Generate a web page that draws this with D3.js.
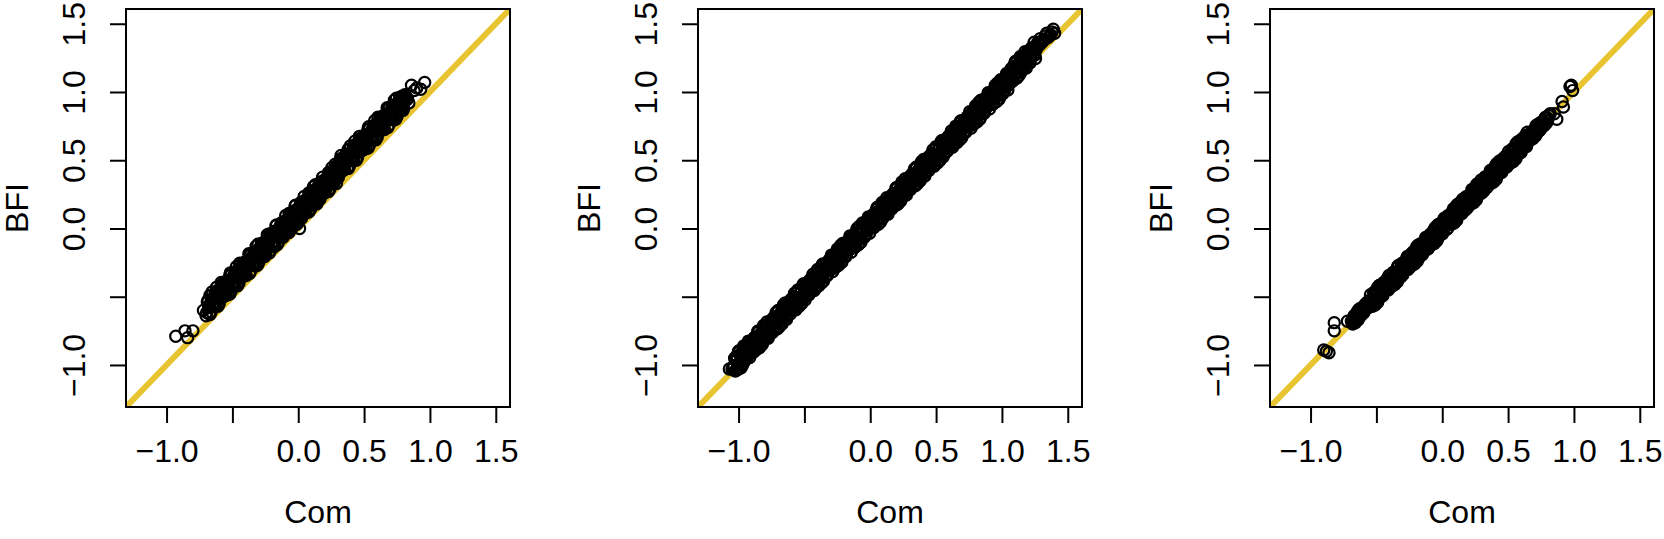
<!DOCTYPE html>
<html>
<head>
<meta charset="utf-8">
<script src="https://cdn.jsdelivr.net/npm/d3@7"></script>
<style>
  body { margin: 0; background: #fff; }
  svg { display: block; }
</style>
</head>
<body>
<svg id="chart" width="1664" height="539"></svg>
<script>
// [Com, BFI] pairs, one array per panel
var panel1 = [
  [-0.70,-0.64],[-0.69,-0.54],[-0.68,-0.58],[-0.67,-0.49],[-0.66,-0.61],[-0.65,-0.52],[-0.64,-0.56],[-0.63,-0.47],[-0.62,-0.51],[-0.61,-0.57],[-0.60,-0.46],[-0.59,-0.50],[-0.58,-0.41],[-0.57,-0.50],[-0.56,-0.44],
  [-0.55,-0.49],[-0.54,-0.39],[-0.53,-0.43],[-0.52,-0.34],[-0.51,-0.46],[-0.50,-0.37],[-0.49,-0.41],[-0.48,-0.32],[-0.47,-0.36],[-0.46,-0.42],[-0.45,-0.31],[-0.44,-0.35],[-0.43,-0.26],[-0.42,-0.35],[-0.41,-0.29],
  [-0.40,-0.34],[-0.39,-0.24],[-0.38,-0.28],[-0.37,-0.19],[-0.36,-0.31],[-0.35,-0.22],[-0.34,-0.26],[-0.33,-0.17],[-0.32,-0.21],[-0.31,-0.27],[-0.30,-0.16],[-0.29,-0.20],[-0.28,-0.11],[-0.27,-0.20],[-0.26,-0.14],
  [-0.25,-0.19],[-0.24,-0.09],[-0.23,-0.13],[-0.22,-0.04],[-0.21,-0.16],[-0.20,-0.07],[-0.19,-0.11],[-0.18,-0.02],[-0.17,-0.06],[-0.16,-0.12],[-0.15,-0.01],[-0.14,-0.05],[-0.13,0.04],[-0.12,-0.05],[-0.11,0.01],
  [-0.10,-0.04],[-0.09,0.06],[-0.08,0.02],[-0.07,0.11],[-0.06,-0.01],[-0.05,0.08],[-0.04,0.04],[-0.03,0.13],[-0.02,0.09],[-0.01,0.03],[0.00,0.14],[0.01,0.10],[0.02,0.19],[0.03,0.10],[0.04,0.16],
  [0.05,0.11],[0.06,0.21],[0.07,0.17],[0.08,0.26],[0.09,0.14],[0.10,0.23],[0.11,0.19],[0.12,0.28],[0.13,0.24],[0.14,0.18],[0.15,0.29],[0.16,0.25],[0.17,0.34],[0.18,0.25],[0.19,0.31],
  [0.20,0.26],[0.21,0.36],[0.22,0.32],[0.23,0.41],[0.24,0.29],[0.25,0.38],[0.26,0.34],[0.27,0.43],[0.28,0.39],[0.29,0.33],[0.30,0.46],[0.31,0.42],[0.32,0.51],[0.33,0.42],[0.34,0.48],
  [0.35,0.43],[0.36,0.53],[0.37,0.49],[0.38,0.58],[0.39,0.46],[0.40,0.55],[0.41,0.51],[0.42,0.60],[0.43,0.56],[0.44,0.50],[0.45,0.61],[0.46,0.57],[0.47,0.66],[0.48,0.57],[0.49,0.63],
  [0.50,0.58],[0.51,0.68],[0.52,0.64],[0.53,0.73],[0.54,0.61],[0.55,0.70],[0.56,0.66],[0.57,0.75],[0.58,0.71],[0.59,0.65],[0.60,0.76],[0.61,0.72],[0.62,0.81],[0.63,0.72],[0.64,0.78],
  [0.65,0.73],[0.66,0.83],[0.67,0.79],[0.68,0.88],[0.69,0.76],[0.70,0.85],[0.71,0.81],[0.72,0.90],[0.73,0.86],[0.74,0.80],[0.75,0.91],[0.76,0.87],[0.77,0.96],[0.78,0.87],[0.79,0.93],
  [0.80,0.88],[0.81,0.98],[0.82,0.94],[0.83,0.95],[0.84,0.92],
  [-0.68,-0.57],[-0.67,-0.63],[-0.66,-0.49],[-0.65,-0.57],[-0.64,-0.50],[-0.63,-0.57],[-0.62,-0.43],[-0.61,-0.51],[-0.60,-0.55],[-0.59,-0.44],[-0.58,-0.46],[-0.57,-0.50],[-0.56,-0.40],[-0.55,-0.46],[-0.54,-0.41],
  [-0.53,-0.42],[-0.52,-0.48],[-0.51,-0.34],[-0.50,-0.42],[-0.49,-0.35],[-0.48,-0.42],[-0.47,-0.28],[-0.46,-0.36],[-0.45,-0.40],[-0.44,-0.29],[-0.43,-0.31],[-0.42,-0.35],[-0.41,-0.25],[-0.40,-0.31],[-0.39,-0.26],
  [-0.38,-0.27],[-0.37,-0.33],[-0.36,-0.19],[-0.35,-0.27],[-0.34,-0.20],[-0.33,-0.27],[-0.32,-0.13],[-0.31,-0.21],[-0.30,-0.25],[-0.29,-0.14],[-0.28,-0.16],[-0.27,-0.20],[-0.26,-0.10],[-0.25,-0.16],[-0.24,-0.11],
  [-0.23,-0.12],[-0.22,-0.18],[-0.21,-0.04],[-0.20,-0.12],[-0.19,-0.05],[-0.18,-0.12],[-0.17,0.02],[-0.16,-0.06],[-0.15,-0.10],[-0.14,0.01],[-0.13,-0.01],[-0.12,-0.05],[-0.11,0.05],[-0.10,-0.01],[-0.09,0.04],
  [-0.08,0.03],[-0.07,-0.03],[-0.06,0.11],[-0.05,0.03],[-0.04,0.10],[-0.03,0.03],[-0.02,0.17],[-0.01,0.09],[0.00,0.05],[0.01,0.16],[0.02,0.14],[0.03,0.10],[0.04,0.20],[0.05,0.14],[0.06,0.19],
  [0.07,0.18],[0.08,0.12],[0.09,0.26],[0.10,0.18],[0.11,0.25],[0.12,0.18],[0.13,0.32],[0.14,0.24],[0.15,0.20],[0.16,0.31],[0.17,0.29],[0.18,0.25],[0.19,0.35],[0.20,0.29],[0.21,0.34],
  [0.22,0.33],[0.23,0.27],[0.24,0.41],[0.25,0.33],[0.26,0.40],[0.27,0.33],[0.28,0.47],[0.29,0.39],[0.30,0.37],[0.31,0.48],[0.32,0.46],[0.33,0.42],[0.34,0.52],[0.35,0.46],[0.36,0.51],
  [0.37,0.50],[0.38,0.44],[0.39,0.58],[0.40,0.50],[0.41,0.57],[0.42,0.50],[0.43,0.64],[0.44,0.56],[0.45,0.52],[0.46,0.63],[0.47,0.61],[0.48,0.57],[0.49,0.67],[0.50,0.61],[0.51,0.66],
  [0.52,0.65],[0.53,0.59],[0.54,0.73],[0.55,0.65],[0.56,0.72],[0.57,0.65],[0.58,0.79],[0.59,0.71],[0.60,0.67],[0.61,0.78],[0.62,0.76],[0.63,0.72],[0.64,0.82],[0.65,0.76],[0.66,0.81],
  [0.67,0.80],[0.68,0.74],[0.69,0.88],[0.70,0.80],[0.71,0.87],[0.72,0.80],[0.73,0.94],[0.74,0.86],[0.75,0.82],[0.76,0.93],[0.77,0.91],[0.78,0.87],[0.79,0.97],[0.80,0.91],[0.81,0.96],
  [-0.695,-0.615],[-0.685,-0.525],[-0.675,-0.625],[-0.665,-0.545],[-0.655,-0.465],[-0.645,-0.545],[-0.635,-0.495],[-0.625,-0.545],[-0.615,-0.455],[-0.605,-0.555],[-0.595,-0.475],[-0.585,-0.395],[-0.575,-0.475],[-0.565,-0.425],
  [-0.555,-0.475],[-0.545,-0.385],[-0.535,-0.485],[-0.525,-0.405],[-0.515,-0.325],[-0.505,-0.405],[-0.495,-0.355],[-0.485,-0.405],[-0.475,-0.315],[-0.465,-0.415],[-0.455,-0.335],[-0.445,-0.255],[-0.435,-0.335],[-0.425,-0.285],
  [-0.415,-0.335],[-0.405,-0.245],[-0.395,-0.345],[-0.385,-0.265],[-0.375,-0.185],[-0.365,-0.265],[-0.355,-0.215],[-0.345,-0.265],[-0.335,-0.175],[-0.325,-0.275],[-0.315,-0.195],[-0.305,-0.115],[-0.295,-0.195],[-0.285,-0.145],
  [-0.275,-0.195],[-0.265,-0.105],[-0.255,-0.205],[-0.245,-0.125],[-0.235,-0.045],[-0.225,-0.125],[-0.215,-0.075],[-0.205,-0.125],[-0.195,-0.035],[-0.185,-0.135],[-0.175,-0.055],[-0.165,0.025],[-0.155,-0.055],[-0.145,-0.005],
  [-0.135,-0.055],[-0.125,0.035],[-0.115,-0.065],[-0.105,0.015],[-0.095,0.095],[-0.085,0.015],[-0.075,0.065],[-0.065,0.015],[-0.055,0.105],[-0.045,0.005],[-0.035,0.085],[-0.025,0.165],[-0.015,0.085],[-0.005,0.135],
  [0.005,0.085],[0.015,0.175],[0.025,0.075],[0.035,0.155],[0.045,0.235],[0.055,0.155],[0.065,0.205],[0.075,0.155],[0.085,0.245],[0.095,0.145],[0.105,0.225],[0.115,0.305],[0.125,0.225],[0.135,0.275],
  [0.145,0.225],[0.155,0.315],[0.165,0.215],[0.175,0.295],[0.185,0.375],[0.195,0.295],[0.205,0.345],[0.215,0.295],[0.225,0.385],[0.235,0.285],[0.245,0.365],[0.255,0.445],[0.265,0.365],[0.275,0.415],
  [0.285,0.365],[0.295,0.455],[0.305,0.375],[0.315,0.455],[0.325,0.535],[0.335,0.455],[0.345,0.505],[0.355,0.455],[0.365,0.545],[0.375,0.445],[0.385,0.525],[0.395,0.605],[0.405,0.525],[0.415,0.575],
  [0.425,0.525],[0.435,0.615],[0.445,0.515],[0.455,0.595],[0.465,0.675],[0.475,0.595],[0.485,0.645],[0.495,0.595],[0.505,0.685],[0.515,0.585],[0.525,0.665],[0.535,0.745],[0.545,0.665],[0.555,0.715],
  [0.565,0.665],[0.575,0.755],[0.585,0.655],[0.595,0.735],[0.605,0.815],[0.615,0.735],[0.625,0.785],[0.635,0.735],[0.645,0.825],[0.655,0.725],[0.665,0.805],[0.675,0.885],[0.685,0.805],[0.695,0.855],
  [0.705,0.805],[0.715,0.895],[0.725,0.795],[0.735,0.875],[0.745,0.955],[0.755,0.875],[0.765,0.925],[0.775,0.875],[0.785,0.965],[0.795,0.865],[0.805,0.945],[0.815,0.975],[0.825,0.945],
  [-0.93,-0.79],[-0.84,-0.80],[-0.86,-0.75],[-0.80,-0.75],[-0.72,-0.60],[0.01,0.00],
  [0.86,1.05],[0.93,1.02],[0.96,1.07],[0.88,1.01],[0.90,1.03]
];

var panel2 = [
  [-1.04,-1.02],[-1.03,-0.95],[-1.02,-1.04],[-1.01,-0.96],[-1.00,-0.90],[-0.99,-1.02],[-0.98,-0.92],[-0.97,-0.97],[-0.96,-0.87],[-0.95,-0.92],[-0.94,-0.95],[-0.93,-0.86],[-0.92,-0.88],[-0.91,-0.90],[-0.90,-0.82],
  [-0.89,-0.87],[-0.88,-0.80],[-0.87,-0.89],[-0.86,-0.81],[-0.85,-0.75],[-0.84,-0.87],[-0.83,-0.77],[-0.82,-0.82],[-0.81,-0.72],[-0.80,-0.77],[-0.79,-0.80],[-0.78,-0.71],[-0.77,-0.73],[-0.76,-0.75],[-0.75,-0.67],
  [-0.74,-0.72],[-0.73,-0.65],[-0.72,-0.74],[-0.71,-0.66],[-0.70,-0.60],[-0.69,-0.72],[-0.68,-0.62],[-0.67,-0.67],[-0.66,-0.57],[-0.65,-0.62],[-0.64,-0.65],[-0.63,-0.56],[-0.62,-0.58],[-0.61,-0.60],[-0.60,-0.52],
  [-0.59,-0.57],[-0.58,-0.50],[-0.57,-0.59],[-0.56,-0.51],[-0.55,-0.45],[-0.54,-0.57],[-0.53,-0.47],[-0.52,-0.52],[-0.51,-0.42],[-0.50,-0.47],[-0.49,-0.50],[-0.48,-0.41],[-0.47,-0.43],[-0.46,-0.45],[-0.45,-0.37],
  [-0.44,-0.42],[-0.43,-0.35],[-0.42,-0.44],[-0.41,-0.36],[-0.40,-0.30],[-0.39,-0.42],[-0.38,-0.32],[-0.37,-0.37],[-0.36,-0.27],[-0.35,-0.32],[-0.34,-0.35],[-0.33,-0.26],[-0.32,-0.28],[-0.31,-0.30],[-0.30,-0.22],
  [-0.29,-0.27],[-0.28,-0.20],[-0.27,-0.29],[-0.26,-0.21],[-0.25,-0.15],[-0.24,-0.27],[-0.23,-0.17],[-0.22,-0.22],[-0.21,-0.12],[-0.20,-0.17],[-0.19,-0.20],[-0.18,-0.11],[-0.17,-0.13],[-0.16,-0.15],[-0.15,-0.07],
  [-0.14,-0.12],[-0.13,-0.05],[-0.12,-0.14],[-0.11,-0.06],[-0.10,0.00],[-0.09,-0.12],[-0.08,-0.02],[-0.07,-0.07],[-0.06,0.03],[-0.05,-0.02],[-0.04,-0.05],[-0.03,0.04],[-0.02,0.02],[-0.01,0.00],[0.00,0.08],
  [0.01,0.03],[0.02,0.10],[0.03,0.01],[0.04,0.09],[0.05,0.15],[0.06,0.03],[0.07,0.13],[0.08,0.08],[0.09,0.18],[0.10,0.13],[0.11,0.10],[0.12,0.19],[0.13,0.17],[0.14,0.15],[0.15,0.23],
  [0.16,0.18],[0.17,0.25],[0.18,0.16],[0.19,0.24],[0.20,0.30],[0.21,0.18],[0.22,0.28],[0.23,0.23],[0.24,0.33],[0.25,0.28],[0.26,0.25],[0.27,0.34],[0.28,0.32],[0.29,0.30],[0.30,0.38],
  [0.31,0.33],[0.32,0.40],[0.33,0.31],[0.34,0.39],[0.35,0.45],[0.36,0.33],[0.37,0.43],[0.38,0.38],[0.39,0.48],[0.40,0.43],[0.41,0.40],[0.42,0.49],[0.43,0.47],[0.44,0.45],[0.45,0.53],
  [0.46,0.48],[0.47,0.55],[0.48,0.46],[0.49,0.54],[0.50,0.60],[0.51,0.48],[0.52,0.58],[0.53,0.53],[0.54,0.63],[0.55,0.58],[0.56,0.55],[0.57,0.64],[0.58,0.62],[0.59,0.60],[0.60,0.68],
  [0.61,0.63],[0.62,0.70],[0.63,0.61],[0.64,0.69],[0.65,0.75],[0.66,0.63],[0.67,0.73],[0.68,0.68],[0.69,0.78],[0.70,0.73],[0.71,0.70],[0.72,0.79],[0.73,0.77],[0.74,0.75],[0.75,0.83],
  [0.76,0.78],[0.77,0.85],[0.78,0.76],[0.79,0.84],[0.80,0.90],[0.81,0.78],[0.82,0.88],[0.83,0.83],[0.84,0.93],[0.85,0.88],[0.86,0.85],[0.87,0.94],[0.88,0.92],[0.89,0.90],[0.90,0.98],
  [0.91,0.93],[0.92,1.00],[0.93,0.91],[0.94,0.99],[0.95,1.05],[0.96,0.93],[0.97,1.03],[0.98,0.98],[0.99,1.08],[1.00,1.03],[1.01,1.00],[1.02,1.09],[1.03,1.07],[1.04,1.05],[1.05,1.13],
  [1.06,1.10],[1.07,1.17],[1.08,1.08],[1.09,1.16],[1.10,1.22],[1.11,1.10],[1.12,1.20],[1.13,1.15],[1.14,1.25],[1.15,1.20],[1.16,1.17],[1.17,1.26],[1.18,1.24],[1.19,1.22],[1.20,1.30],
  [1.21,1.25],[1.23,1.30],[1.25,1.27],[1.27,1.36],[1.29,1.39],[1.31,1.37],[1.33,1.41],[1.35,1.40],
  [-1.02,-0.97],[-1.01,-1.03],[-1.00,-0.91],[-0.99,-0.98],[-0.98,-0.92],[-0.97,-1.00],[-0.96,-0.86],[-0.95,-0.92],[-0.94,-0.87],[-0.93,-0.94],[-0.92,-0.88],[-0.91,-0.83],[-0.90,-0.90],[-0.89,-0.83],[-0.88,-0.86],
  [-0.87,-0.82],[-0.86,-0.88],[-0.85,-0.76],[-0.84,-0.83],[-0.83,-0.77],[-0.82,-0.85],[-0.81,-0.71],[-0.80,-0.77],[-0.79,-0.72],[-0.78,-0.79],[-0.77,-0.73],[-0.76,-0.68],[-0.75,-0.75],[-0.74,-0.68],[-0.73,-0.71],
  [-0.72,-0.67],[-0.71,-0.73],[-0.70,-0.61],[-0.69,-0.68],[-0.68,-0.62],[-0.67,-0.70],[-0.66,-0.56],[-0.65,-0.62],[-0.64,-0.57],[-0.63,-0.64],[-0.62,-0.58],[-0.61,-0.53],[-0.60,-0.60],[-0.59,-0.53],[-0.58,-0.56],
  [-0.57,-0.52],[-0.56,-0.58],[-0.55,-0.46],[-0.54,-0.53],[-0.53,-0.47],[-0.52,-0.55],[-0.51,-0.41],[-0.50,-0.47],[-0.49,-0.42],[-0.48,-0.49],[-0.47,-0.43],[-0.46,-0.38],[-0.45,-0.45],[-0.44,-0.38],[-0.43,-0.41],
  [-0.42,-0.37],[-0.41,-0.43],[-0.40,-0.31],[-0.39,-0.38],[-0.38,-0.32],[-0.37,-0.40],[-0.36,-0.26],[-0.35,-0.32],[-0.34,-0.27],[-0.33,-0.34],[-0.32,-0.28],[-0.31,-0.23],[-0.30,-0.30],[-0.29,-0.23],[-0.28,-0.26],
  [-0.27,-0.22],[-0.26,-0.28],[-0.25,-0.16],[-0.24,-0.23],[-0.23,-0.17],[-0.22,-0.25],[-0.21,-0.11],[-0.20,-0.17],[-0.19,-0.12],[-0.18,-0.19],[-0.17,-0.13],[-0.16,-0.08],[-0.15,-0.15],[-0.14,-0.08],[-0.13,-0.11],
  [-0.12,-0.07],[-0.11,-0.13],[-0.10,-0.01],[-0.09,-0.08],[-0.08,-0.02],[-0.07,-0.10],[-0.06,0.04],[-0.05,-0.02],[-0.04,0.03],[-0.03,-0.04],[-0.02,0.02],[-0.01,0.07],[0.00,0.00],[0.01,0.07],[0.02,0.04],
  [0.03,0.08],[0.04,0.02],[0.05,0.14],[0.06,0.07],[0.07,0.13],[0.08,0.05],[0.09,0.19],[0.10,0.13],[0.11,0.18],[0.12,0.11],[0.13,0.17],[0.14,0.22],[0.15,0.15],[0.16,0.22],[0.17,0.19],
  [0.18,0.23],[0.19,0.17],[0.20,0.29],[0.21,0.22],[0.22,0.28],[0.23,0.20],[0.24,0.34],[0.25,0.28],[0.26,0.33],[0.27,0.26],[0.28,0.32],[0.29,0.37],[0.30,0.30],[0.31,0.37],[0.32,0.34],
  [0.33,0.38],[0.34,0.32],[0.35,0.44],[0.36,0.37],[0.37,0.43],[0.38,0.35],[0.39,0.49],[0.40,0.43],[0.41,0.48],[0.42,0.41],[0.43,0.47],[0.44,0.52],[0.45,0.45],[0.46,0.52],[0.47,0.49],
  [0.48,0.53],[0.49,0.47],[0.50,0.59],[0.51,0.52],[0.52,0.58],[0.53,0.50],[0.54,0.64],[0.55,0.58],[0.56,0.63],[0.57,0.56],[0.58,0.62],[0.59,0.67],[0.60,0.60],[0.61,0.67],[0.62,0.64],
  [0.63,0.68],[0.64,0.62],[0.65,0.74],[0.66,0.67],[0.67,0.73],[0.68,0.65],[0.69,0.79],[0.70,0.73],[0.71,0.78],[0.72,0.71],[0.73,0.77],[0.74,0.82],[0.75,0.75],[0.76,0.82],[0.77,0.79],
  [0.78,0.83],[0.79,0.77],[0.80,0.89],[0.81,0.82],[0.82,0.88],[0.83,0.80],[0.84,0.94],[0.85,0.88],[0.86,0.93],[0.87,0.86],[0.88,0.92],[0.89,0.97],[0.90,0.90],[0.91,0.97],[0.92,0.94],
  [0.93,0.98],[0.94,0.92],[0.95,1.04],[0.96,0.97],[0.97,1.03],[0.98,0.95],[0.99,1.09],[1.00,1.03],[1.01,1.08],[1.02,1.01],[1.03,1.07],[1.04,1.12],[1.05,1.05],[1.06,1.14],[1.07,1.11],
  [1.08,1.15],[1.09,1.09],[1.10,1.21],[1.11,1.14],[1.12,1.20],[1.13,1.12],[1.14,1.26],[1.15,1.20],[1.16,1.25],[1.17,1.18],[1.18,1.24],[1.19,1.29],[1.20,1.22],[1.21,1.29],[1.22,1.26],
  [1.24,1.32],[1.26,1.31],[1.28,1.35],[1.30,1.36],[1.32,1.38],[1.34,1.43],[1.36,1.41],
  [-1.035,-1.005],[-1.025,-1.045],[-1.015,-0.935],[-1.005,-0.995],[-0.995,-0.895],[-0.985,-1.015],[-0.975,-0.925],[-0.965,-0.935],[-0.955,-0.975],[-0.945,-0.865],[-0.935,-0.925],[-0.925,-0.825],[-0.915,-0.945],[-0.905,-0.855],
  [-0.895,-0.865],[-0.885,-0.905],[-0.875,-0.795],[-0.865,-0.855],[-0.855,-0.755],[-0.845,-0.875],[-0.835,-0.785],[-0.825,-0.795],[-0.815,-0.835],[-0.805,-0.725],[-0.795,-0.785],[-0.785,-0.685],[-0.775,-0.805],[-0.765,-0.715],
  [-0.755,-0.725],[-0.745,-0.765],[-0.735,-0.655],[-0.725,-0.715],[-0.715,-0.615],[-0.705,-0.735],[-0.695,-0.645],[-0.685,-0.655],[-0.675,-0.695],[-0.665,-0.585],[-0.655,-0.645],[-0.645,-0.545],[-0.635,-0.665],[-0.625,-0.575],
  [-0.615,-0.585],[-0.605,-0.625],[-0.595,-0.515],[-0.585,-0.575],[-0.575,-0.475],[-0.565,-0.595],[-0.555,-0.505],[-0.545,-0.515],[-0.535,-0.555],[-0.525,-0.445],[-0.515,-0.505],[-0.505,-0.405],[-0.495,-0.525],[-0.485,-0.435],
  [-0.475,-0.445],[-0.465,-0.485],[-0.455,-0.375],[-0.445,-0.435],[-0.435,-0.335],[-0.425,-0.455],[-0.415,-0.365],[-0.405,-0.375],[-0.395,-0.415],[-0.385,-0.305],[-0.375,-0.365],[-0.365,-0.265],[-0.355,-0.385],[-0.345,-0.295],
  [-0.335,-0.305],[-0.325,-0.345],[-0.315,-0.235],[-0.305,-0.295],[-0.295,-0.195],[-0.285,-0.315],[-0.275,-0.225],[-0.265,-0.235],[-0.255,-0.275],[-0.245,-0.165],[-0.235,-0.225],[-0.225,-0.125],[-0.215,-0.245],[-0.205,-0.155],
  [-0.195,-0.165],[-0.185,-0.205],[-0.175,-0.095],[-0.165,-0.155],[-0.155,-0.055],[-0.145,-0.175],[-0.135,-0.085],[-0.125,-0.095],[-0.115,-0.135],[-0.105,-0.025],[-0.095,-0.085],[-0.085,0.015],[-0.075,-0.105],[-0.065,-0.015],
  [-0.055,-0.025],[-0.045,-0.065],[-0.035,0.045],[-0.025,-0.015],[-0.015,0.085],[-0.005,-0.035],[0.005,0.055],[0.015,0.045],[0.025,0.005],[0.035,0.115],[0.045,0.055],[0.055,0.155],[0.065,0.035],[0.075,0.125],
  [0.085,0.115],[0.095,0.075],[0.105,0.185],[0.115,0.125],[0.125,0.225],[0.135,0.105],[0.145,0.195],[0.155,0.185],[0.165,0.145],[0.175,0.255],[0.185,0.195],[0.195,0.295],[0.205,0.175],[0.215,0.265],
  [0.225,0.255],[0.235,0.215],[0.245,0.325],[0.255,0.265],[0.265,0.365],[0.275,0.245],[0.285,0.335],[0.295,0.325],[0.305,0.285],[0.315,0.395],[0.325,0.335],[0.335,0.435],[0.345,0.315],[0.355,0.405],
  [0.365,0.395],[0.375,0.355],[0.385,0.465],[0.395,0.405],[0.405,0.505],[0.415,0.385],[0.425,0.475],[0.435,0.465],[0.445,0.425],[0.455,0.535],[0.465,0.475],[0.475,0.575],[0.485,0.455],[0.495,0.545],
  [0.505,0.535],[0.515,0.495],[0.525,0.605],[0.535,0.545],[0.545,0.645],[0.555,0.525],[0.565,0.615],[0.575,0.605],[0.585,0.565],[0.595,0.675],[0.605,0.615],[0.615,0.715],[0.625,0.595],[0.635,0.685],
  [0.645,0.675],[0.655,0.635],[0.665,0.745],[0.675,0.685],[0.685,0.785],[0.695,0.665],[0.705,0.755],[0.715,0.745],[0.725,0.705],[0.735,0.815],[0.745,0.755],[0.755,0.855],[0.765,0.735],[0.775,0.825],
  [0.785,0.815],[0.795,0.775],[0.805,0.885],[0.815,0.825],[0.825,0.925],[0.835,0.805],[0.845,0.895],[0.855,0.885],[0.865,0.845],[0.875,0.955],[0.885,0.895],[0.895,0.995],[0.905,0.875],[0.915,0.965],
  [0.925,0.955],[0.935,0.915],[0.945,1.025],[0.955,0.965],[0.965,1.065],[0.975,0.945],[0.985,1.035],[0.995,1.025],[1.005,0.985],[1.015,1.095],[1.025,1.035],[1.035,1.135],[1.045,1.015],[1.055,1.105],
  [1.065,1.115],[1.075,1.075],[1.085,1.185],[1.095,1.125],[1.105,1.225],[1.115,1.105],[1.125,1.195],[1.135,1.185],[1.145,1.145],[1.155,1.255],[1.165,1.195],[1.175,1.295],[1.185,1.175],[1.195,1.265],
  [1.205,1.255],[1.215,1.215],[1.225,1.325],[1.235,1.265],[1.245,1.365],[1.255,1.245],[1.265,1.335],[1.285,1.345],[1.305,1.375],
  [1.39,1.46],[1.37,1.42],[1.38,1.44],[1.40,1.43],
  [-1.07,-1.03],[-1.05,-1.03],[-1.00,-1.03],[-0.98,-1.02]
];

var panel3 = [
  [-0.69,-0.68],[-0.68,-0.70],[-0.67,-0.64],[-0.66,-0.67],[-0.65,-0.63],[-0.64,-0.67],[-0.63,-0.59],[-0.62,-0.62],[-0.61,-0.63],[-0.60,-0.58],[-0.59,-0.60],[-0.58,-0.57],[-0.57,-0.54],[-0.56,-0.58],[-0.55,-0.54],
  [-0.54,-0.53],[-0.53,-0.57],[-0.52,-0.47],[-0.51,-0.52],[-0.50,-0.47],[-0.49,-0.54],[-0.48,-0.42],[-0.47,-0.47],[-0.46,-0.49],[-0.45,-0.41],[-0.44,-0.46],[-0.43,-0.41],[-0.42,-0.37],[-0.41,-0.45],[-0.40,-0.39],
  [-0.39,-0.38],[-0.38,-0.42],[-0.37,-0.32],[-0.36,-0.37],[-0.35,-0.32],[-0.34,-0.39],[-0.33,-0.27],[-0.32,-0.32],[-0.31,-0.34],[-0.30,-0.26],[-0.29,-0.31],[-0.28,-0.26],[-0.27,-0.22],[-0.26,-0.30],[-0.25,-0.24],
  [-0.24,-0.23],[-0.23,-0.27],[-0.22,-0.17],[-0.21,-0.22],[-0.20,-0.17],[-0.19,-0.24],[-0.18,-0.12],[-0.17,-0.17],[-0.16,-0.19],[-0.15,-0.11],[-0.14,-0.16],[-0.13,-0.11],[-0.12,-0.07],[-0.11,-0.15],[-0.10,-0.09],
  [-0.09,-0.08],[-0.08,-0.12],[-0.07,-0.02],[-0.06,-0.07],[-0.05,-0.02],[-0.04,-0.09],[-0.03,0.03],[-0.02,-0.02],[-0.01,-0.04],[0.00,0.04],[0.01,-0.01],[0.02,0.04],[0.03,0.08],[0.04,0.00],[0.05,0.06],
  [0.06,0.07],[0.07,0.03],[0.08,0.13],[0.09,0.08],[0.10,0.13],[0.11,0.06],[0.12,0.18],[0.13,0.13],[0.14,0.11],[0.15,0.19],[0.16,0.14],[0.17,0.19],[0.18,0.23],[0.19,0.15],[0.20,0.21],
  [0.21,0.22],[0.22,0.18],[0.23,0.28],[0.24,0.23],[0.25,0.28],[0.26,0.21],[0.27,0.33],[0.28,0.28],[0.29,0.26],[0.30,0.34],[0.31,0.29],[0.32,0.34],[0.33,0.38],[0.34,0.30],[0.35,0.36],
  [0.36,0.37],[0.37,0.33],[0.38,0.43],[0.39,0.38],[0.40,0.43],[0.41,0.36],[0.42,0.48],[0.43,0.43],[0.44,0.41],[0.45,0.49],[0.46,0.44],[0.47,0.49],[0.48,0.53],[0.49,0.45],[0.50,0.51],
  [0.51,0.52],[0.52,0.48],[0.53,0.58],[0.54,0.53],[0.55,0.58],[0.56,0.51],[0.57,0.63],[0.58,0.58],[0.59,0.56],[0.60,0.64],[0.61,0.59],[0.62,0.64],[0.63,0.68],[0.64,0.60],[0.65,0.66],
  [0.66,0.67],[0.67,0.65],[0.68,0.71],[0.69,0.68],[0.70,0.72],[0.71,0.68],[0.72,0.76],[0.73,0.73],[0.74,0.72],[0.75,0.77],[0.76,0.75],[0.77,0.78],[0.78,0.81],[0.79,0.77],[0.80,0.81],
  [0.81,0.83],[0.82,0.84],
  [-0.68,-0.69],[-0.67,-0.65],[-0.66,-0.69],[-0.65,-0.64],[-0.64,-0.60],[-0.63,-0.65],[-0.62,-0.61],[-0.61,-0.58],[-0.60,-0.62],[-0.59,-0.57],[-0.58,-0.58],[-0.57,-0.58],[-0.56,-0.54],[-0.55,-0.56],[-0.54,-0.52],
  [-0.53,-0.55],[-0.52,-0.48],[-0.51,-0.56],[-0.50,-0.48],[-0.49,-0.43],[-0.48,-0.51],[-0.47,-0.46],[-0.46,-0.41],[-0.45,-0.49],[-0.44,-0.41],[-0.43,-0.43],[-0.42,-0.43],[-0.41,-0.37],[-0.40,-0.42],[-0.39,-0.36],
  [-0.38,-0.40],[-0.37,-0.33],[-0.36,-0.41],[-0.35,-0.33],[-0.34,-0.28],[-0.33,-0.36],[-0.32,-0.31],[-0.31,-0.26],[-0.30,-0.34],[-0.29,-0.26],[-0.28,-0.28],[-0.27,-0.28],[-0.26,-0.22],[-0.25,-0.27],[-0.24,-0.21],
  [-0.23,-0.25],[-0.22,-0.18],[-0.21,-0.26],[-0.20,-0.18],[-0.19,-0.13],[-0.18,-0.21],[-0.17,-0.16],[-0.16,-0.11],[-0.15,-0.19],[-0.14,-0.11],[-0.13,-0.13],[-0.12,-0.13],[-0.11,-0.07],[-0.10,-0.12],[-0.09,-0.06],
  [-0.08,-0.10],[-0.07,-0.03],[-0.06,-0.11],[-0.05,-0.03],[-0.04,0.02],[-0.03,-0.06],[-0.02,-0.01],[-0.01,0.04],[0.00,-0.04],[0.01,0.04],[0.02,0.02],[0.03,0.02],[0.04,0.08],[0.05,0.03],[0.06,0.09],
  [0.07,0.05],[0.08,0.12],[0.09,0.04],[0.10,0.12],[0.11,0.17],[0.12,0.09],[0.13,0.14],[0.14,0.19],[0.15,0.11],[0.16,0.19],[0.17,0.17],[0.18,0.17],[0.19,0.23],[0.20,0.18],[0.21,0.24],
  [0.22,0.20],[0.23,0.27],[0.24,0.19],[0.25,0.27],[0.26,0.32],[0.27,0.24],[0.28,0.29],[0.29,0.34],[0.30,0.26],[0.31,0.34],[0.32,0.32],[0.33,0.32],[0.34,0.38],[0.35,0.33],[0.36,0.39],
  [0.37,0.35],[0.38,0.42],[0.39,0.34],[0.40,0.42],[0.41,0.47],[0.42,0.39],[0.43,0.44],[0.44,0.49],[0.45,0.41],[0.46,0.49],[0.47,0.47],[0.48,0.47],[0.49,0.53],[0.50,0.48],[0.51,0.54],
  [0.52,0.50],[0.53,0.57],[0.54,0.49],[0.55,0.57],[0.56,0.62],[0.57,0.54],[0.58,0.59],[0.59,0.64],[0.60,0.56],[0.61,0.64],[0.62,0.62],[0.63,0.62],[0.64,0.68],[0.65,0.63],[0.66,0.69],
  [0.67,0.66],[0.68,0.70],[0.69,0.66],[0.70,0.71],[0.71,0.75],[0.72,0.70],[0.73,0.74],[0.74,0.77],[0.75,0.73],[0.76,0.78],[0.77,0.77],[0.78,0.77],[0.79,0.81],[0.80,0.79],[0.81,0.83],
  [-0.675,-0.665],[-0.665,-0.685],[-0.655,-0.625],[-0.645,-0.655],[-0.635,-0.615],[-0.625,-0.645],[-0.615,-0.585],[-0.605,-0.595],[-0.595,-0.615],[-0.585,-0.555],[-0.575,-0.585],[-0.565,-0.545],[-0.555,-0.575],[-0.545,-0.485],
  [-0.535,-0.515],[-0.525,-0.565],[-0.515,-0.465],[-0.505,-0.515],[-0.495,-0.465],[-0.485,-0.515],[-0.475,-0.415],[-0.465,-0.445],[-0.455,-0.495],[-0.445,-0.395],[-0.435,-0.445],[-0.425,-0.395],[-0.415,-0.445],[-0.405,-0.345],
  [-0.395,-0.375],[-0.385,-0.425],[-0.375,-0.325],[-0.365,-0.375],[-0.355,-0.325],[-0.345,-0.375],[-0.335,-0.275],[-0.325,-0.305],[-0.315,-0.355],[-0.305,-0.255],[-0.295,-0.305],[-0.285,-0.255],[-0.275,-0.305],[-0.265,-0.205],
  [-0.255,-0.235],[-0.245,-0.285],[-0.235,-0.185],[-0.225,-0.235],[-0.215,-0.185],[-0.205,-0.235],[-0.195,-0.135],[-0.185,-0.165],[-0.175,-0.215],[-0.165,-0.115],[-0.155,-0.165],[-0.145,-0.115],[-0.135,-0.165],[-0.125,-0.065],
  [-0.115,-0.095],[-0.105,-0.145],[-0.095,-0.045],[-0.085,-0.095],[-0.075,-0.045],[-0.065,-0.095],[-0.055,0.005],[-0.045,-0.025],[-0.035,-0.075],[-0.025,0.025],[-0.015,-0.025],[-0.005,0.025],[0.005,-0.025],[0.015,0.075],
  [0.025,0.045],[0.035,-0.005],[0.045,0.095],[0.055,0.045],[0.065,0.095],[0.075,0.045],[0.085,0.145],[0.095,0.115],[0.105,0.065],[0.115,0.165],[0.125,0.115],[0.135,0.165],[0.145,0.115],[0.155,0.215],
  [0.165,0.185],[0.175,0.135],[0.185,0.235],[0.195,0.185],[0.205,0.235],[0.215,0.185],[0.225,0.285],[0.235,0.255],[0.245,0.205],[0.255,0.305],[0.265,0.255],[0.275,0.305],[0.285,0.255],[0.295,0.355],
  [0.305,0.325],[0.315,0.275],[0.325,0.375],[0.335,0.325],[0.345,0.375],[0.355,0.325],[0.365,0.425],[0.375,0.395],[0.385,0.345],[0.395,0.445],[0.405,0.395],[0.415,0.445],[0.425,0.395],[0.435,0.495],
  [0.445,0.465],[0.455,0.415],[0.465,0.515],[0.475,0.465],[0.485,0.515],[0.495,0.465],[0.505,0.565],[0.515,0.535],[0.525,0.485],[0.535,0.585],[0.545,0.535],[0.555,0.585],[0.565,0.535],[0.575,0.635],
  [0.585,0.605],[0.595,0.555],[0.605,0.655],[0.615,0.605],[0.625,0.655],[0.635,0.605],[0.645,0.705],[0.655,0.665],[0.665,0.645],[0.675,0.705],[0.685,0.675],[0.695,0.715],[0.705,0.685],[0.715,0.745],
  [0.725,0.735],[0.735,0.715],[0.745,0.775],[0.755,0.745],[0.765,0.785],[0.775,0.755],[0.785,0.815],[0.795,0.805],
  [0.85,0.84],[0.87,0.80],[0.91,0.93],[0.92,0.89],[0.97,1.04],[0.99,1.01],[0.98,1.05],
  [-0.72,-0.68],[-0.82,-0.69],[-0.82,-0.75],[-0.90,-0.89],[-0.86,-0.91],[-0.88,-0.90]
];

var panels = [panel1, panel2, panel3];
var tickValues = [-1.0, -0.5, 0.0, 0.5, 1.0, 1.5];
var hiddenTickLabels = [-0.5];
var xTitle = "Com";
var yTitle = "BFI";
var axisLimits = [-1.2, 1.5];

var svg = d3.select("#chart");
var fontFamily = "'Liberation Sans', Arial, Helvetica, sans-serif";
var fontSize = "32px";
var plotW = 384, plotH = 398, plotTop = 9;
var panelLefts = [126, 698, 1270];

// R adds 4% on each side of xlim / ylim
var pad = (axisLimits[1] - axisLimits[0]) * 0.04;
var domain = [axisLimits[0] - pad, axisLimits[1] + pad];

var fmt = function (d) {
  return hiddenTickLabels.indexOf(d) >= 0 ? "" : d3.format(".1f")(d);
};

svg.append("rect").attr("width", 1664).attr("height", 539).attr("fill", "#fff");

panels.forEach(function (data, i) {
  var left = panelLefts[i];
  var x = d3.scaleLinear().domain(domain).range([0, plotW]);
  var y = d3.scaleLinear().domain(domain).range([plotH, 0]);

  var g = svg.append("g").attr("transform", "translate(" + left + "," + plotTop + ")");

  g.append("clipPath").attr("id", "clip" + i)
    .append("rect").attr("width", plotW).attr("height", plotH);

  // y = x reference line
  g.append("line")
    .attr("clip-path", "url(#clip" + i + ")")
    .attr("x1", x(domain[0])).attr("y1", y(domain[0]))
    .attr("x2", x(domain[1])).attr("y2", y(domain[1]))
    .attr("stroke", "#E8C430")
    .attr("stroke-width", 6);

  g.append("g").selectAll("circle")
    .data(data).enter().append("circle")
    .attr("cx", function (d) { return x(d[0]); })
    .attr("cy", function (d) { return y(d[1]); })
    .attr("r", 5.6)
    .attr("fill", "none")
    .attr("stroke", "#000")
    .attr("stroke-width", 2.2);

  // bottom axis
  g.append("g")
    .attr("transform", "translate(0," + plotH + ")")
    .call(d3.axisBottom(x).tickValues(tickValues).tickSize(16).tickSizeOuter(0).tickFormat(fmt))
    .call(function (a) {
      a.select(".domain").remove();
      a.selectAll("line").attr("stroke", "#000").attr("stroke-width", 2);
      a.selectAll("text")
        .attr("y", 55).attr("dy", null)
        .attr("fill", "#000")
        .style("font-family", fontFamily).style("font-size", fontSize);
    });

  // left axis, labels parallel to the axis as in R
  g.append("g")
    .call(d3.axisLeft(y).tickValues(tickValues).tickSize(16).tickSizeOuter(0).tickFormat(fmt))
    .call(function (a) {
      a.select(".domain").remove();
      a.selectAll("line").attr("stroke", "#000").attr("stroke-width", 2);
      a.selectAll("text")
        .attr("x", 0).attr("y", -41).attr("dy", null)
        .attr("transform", "rotate(-90)")
        .attr("text-anchor", "middle")
        .attr("fill", "#000")
        .style("font-family", fontFamily).style("font-size", fontSize);
    });

  g.append("rect")
    .attr("width", plotW).attr("height", plotH)
    .attr("fill", "none").attr("stroke", "#000").attr("stroke-width", 2);

  g.append("text")
    .attr("x", plotW / 2).attr("y", 513.5)
    .attr("text-anchor", "middle")
    .style("font-family", fontFamily).style("font-size", fontSize)
    .text(xTitle);

  g.append("text")
    .attr("transform", "translate(-98," + (plotH / 2) + ") rotate(-90)")
    .attr("text-anchor", "middle")
    .style("font-family", fontFamily).style("font-size", fontSize)
    .text(yTitle);
});
</script>
</body>
</html>
